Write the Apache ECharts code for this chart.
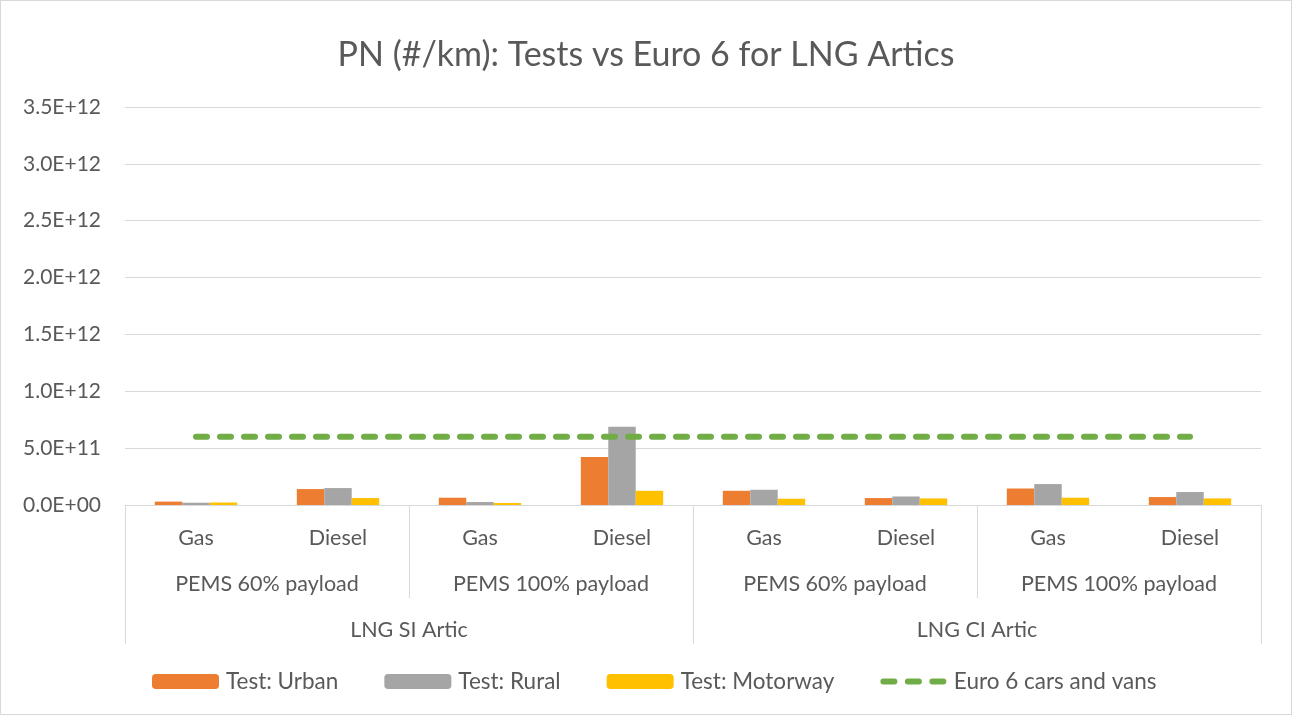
<!DOCTYPE html>
<html>
<head>
<meta charset="utf-8">
<script src="https://cdn.jsdelivr.net/npm/echarts@6/dist/echarts.min.js"></script>
<style>
html,body{margin:0;padding:0;background:#fff;}
#c{width:1292px;height:715px;box-sizing:border-box;border:1px solid #D9D9D9;}
</style>
</head>
<body>
<div id="c"></div>
<script>
var fuelCats = ['Gas','Diesel','Gas','Diesel','Gas','Diesel','Gas','Diesel'];
var payloadCats = ['PEMS 60% payload','PEMS 100% payload','PEMS 60% payload','PEMS 100% payload'];
var vehicleCats = ['LNG SI Artic','LNG CI Artic'];
var urban = [3.0e10, 1.40e11, 6.4e10, 4.23e11, 1.25e11, 6.1e10, 1.45e11, 7.0e10];
var rural = [2.0e10, 1.49e11, 2.6e10, 6.88e11, 1.34e11, 7.5e10, 1.84e11, 1.14e11];
var motorway = [2.2e10, 6.1e10, 1.8e10, 1.25e11, 5.5e10, 5.8e10, 6.4e10, 5.8e10];
var euro6 = [6e11, 6e11, 6e11, 6e11, 6e11, 6e11, 6e11, 6e11];
var yTicks = {min: 0, max: 3.5e12, interval: 5e11};

var FONT = 'Lato, "Liberation Sans", sans-serif';
var TXT = '#595959';
var GRIDC = '#D9D9D9';

function fmt(v){
  if (v === 0) return '0.0E+00';
  var s = v.toExponential(1).toUpperCase();
  var parts = s.split('E');
  var sign = parts[1][0];
  var e = parts[1].slice(1);
  if (e.length < 2) e = '0' + e;
  return parts[0] + 'E' + sign + e;
}

// legend icon: three rounded dashes, bbox padded to 66x15
var dashIcon = 'path://M0,0 M66,15 ' +
  'M3,4.5 H14 A3,3 0 0 1 14,10.5 H3 A3,3 0 0 1 3,4.5 Z ' +
  'M27.5,4.5 H38.5 A3,3 0 0 1 38.5,10.5 H27.5 A3,3 0 0 1 27.5,4.5 Z ' +
  'M52,4.5 H63 A3,3 0 0 1 63,10.5 H52 A3,3 0 0 1 52,4.5 Z';

var chart = echarts.init(document.getElementById('c'), null, {renderer:'canvas'});
var baseAxis = {
  type: 'category', position: 'bottom', boundaryGap: true,
  axisLine: {show: false}, splitLine: {show: false},
  axisLabel: {color: TXT, fontFamily: FONT, fontSize: 21.5, interval: 0}
};
chart.setOption({
  animation: false,
  title: {
    text: 'PN (#/km): Tests vs Euro 6 for LNG Artics',
    left: 'center', top: 32,
    textStyle: {color: TXT, fontFamily: FONT, fontSize: 34, fontWeight: 'normal'}
  },
  legend: {
    bottom: 16, left: 146,
    itemWidth: 67, itemHeight: 15, itemGap: 46,
    textStyle: {color: TXT, fontFamily: FONT, fontSize: 22.5, padding: [0, 0, 0, 2]},
    data: ['Test: Urban','Test: Rural','Test: Motorway',
      {name: 'Euro 6 cars and vans', icon: dashIcon}]
  },
  grid: {left: 124, right: 30, top: 106, bottom: 209},
  xAxis: [
    Object.assign({}, baseAxis, {
      data: fuelCats,
      axisLine: {show: true, lineStyle: {color: GRIDC, width: 1}},
      axisTick: {show: false},
      axisLabel: Object.assign({}, baseAxis.axisLabel, {margin: 22})
    }),
    Object.assign({}, baseAxis, {
      data: payloadCats,
      axisTick: {show: true, length: 93, lineStyle: {color: GRIDC, width: 1}},
      axisLabel: Object.assign({}, baseAxis.axisLabel, {margin: 68})
    }),
    Object.assign({}, baseAxis, {
      data: vehicleCats,
      axisTick: {show: true, length: 139, lineStyle: {color: GRIDC, width: 1}},
      axisLabel: Object.assign({}, baseAxis.axisLabel, {margin: 114})
    })
  ],
  yAxis: {
    type: 'value', min: yTicks.min, max: yTicks.max, interval: yTicks.interval,
    axisLine: {show: false}, axisTick: {show: false},
    splitLine: {lineStyle: {color: GRIDC, width: 1}},
    axisLabel: {color: TXT, fontFamily: FONT, fontSize: 21, margin: 24, formatter: fmt}
  },
  series: [
    {name: 'Test: Urban', type: 'bar', data: urban, xAxisIndex: 0, barGap: '0%', barCategoryGap: '42%',
     itemStyle: {color: '#ED7D31'}},
    {name: 'Test: Rural', type: 'bar', data: rural, xAxisIndex: 0, barGap: '0%', barCategoryGap: '42%',
     itemStyle: {color: '#A5A5A5'}},
    {name: 'Test: Motorway', type: 'bar', data: motorway, xAxisIndex: 0, barGap: '0%', barCategoryGap: '42%',
     itemStyle: {color: '#FFC000'}},
    {name: 'Euro 6 cars and vans', type: 'line', data: euro6, xAxisIndex: 0, symbol: 'none', z: 5,
     itemStyle: {color: '#70AD47'},
     lineStyle: {color: '#70AD47', width: 6, type: [11, 13], cap: 'round'}}
  ]
});
</script>
</body>
</html>
